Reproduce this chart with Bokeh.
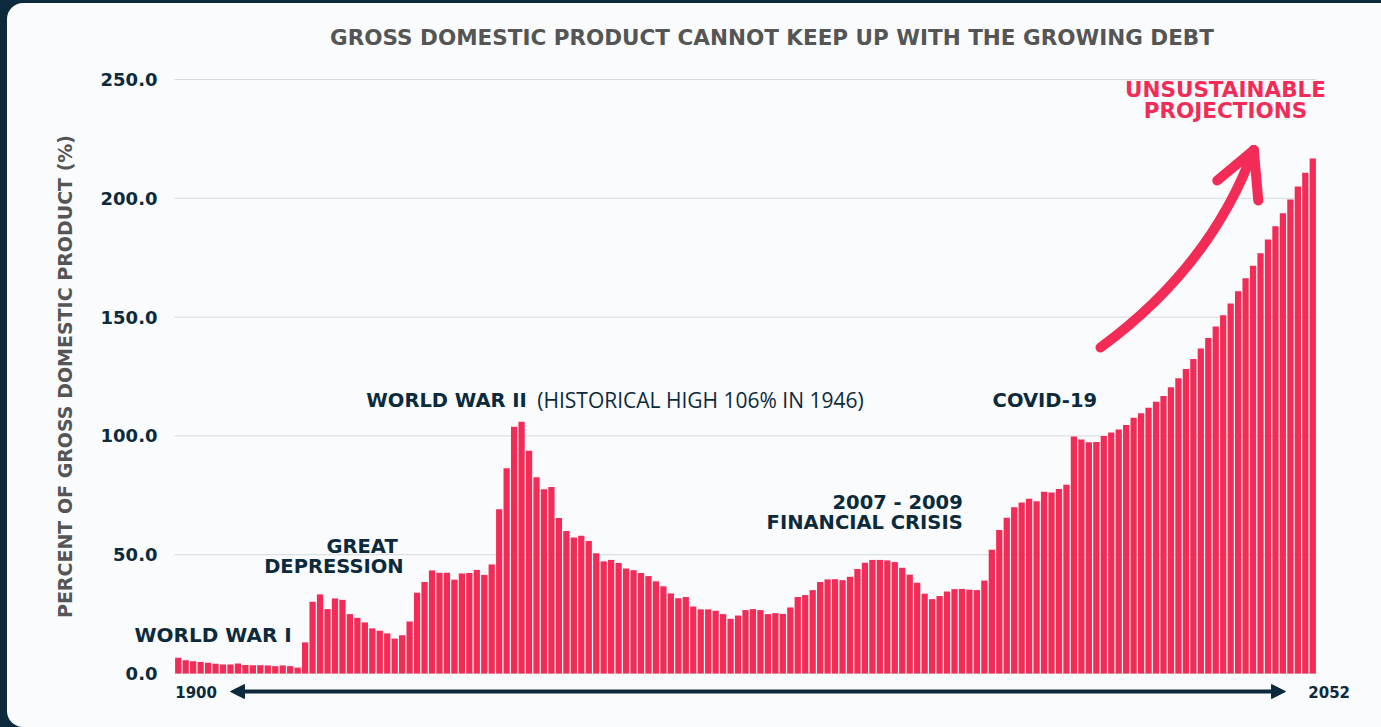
from bokeh.plotting import figure
from bokeh.models import Range1d, FixedTicker, NumeralTickFormatter, Label, Arrow, NormalHead
from bokeh.layouts import column
from bokeh.embed import file_html
from bokeh.resources import INLINE

# Federal debt held by the public, percent of GDP (historical + projected)
years = list(range(1900, 2053))
debt_pct_gdp = [
    6.6, 5.6, 5.2, 4.8, 4.5, 4.1, 3.8, 3.8, 4.2, 3.6,          # 1900-1909
    3.5, 3.5, 3.4, 3.1, 3.4, 3.1, 2.5, 13.1, 30.2, 33.3,       # 1910-1919
    27.1, 31.6, 31.0, 25.0, 23.4, 21.5, 19.0, 18.0, 16.9, 14.7,  # 1920-1929
    16.1, 21.9, 34.0, 38.5, 43.4, 42.4, 42.4, 39.5, 42.1, 42.3,  # 1930-1939
    43.6, 41.5, 45.9, 69.1, 86.4, 103.8, 106.0, 93.8, 82.6, 77.5,  # 1940-1949
    78.5, 65.4, 60.0, 57.2, 58.0, 55.8, 50.6, 47.2, 47.8, 46.5,  # 1950-1959
    44.2, 43.5, 42.3, 41.0, 38.8, 36.7, 33.7, 31.7, 32.2, 28.2,  # 1960-1969
    27.0, 27.0, 26.4, 25.0, 23.0, 24.4, 26.7, 27.1, 26.7, 25.0,  # 1970-1979
    25.4, 25.1, 27.8, 32.2, 33.0, 35.1, 38.5, 39.6, 39.7, 39.3,  # 1980-1989
    40.7, 44.0, 46.6, 47.8, 47.8, 47.6, 46.9, 44.5, 41.6, 38.2,  # 1990-1999
    33.6, 31.3, 32.6, 34.5, 35.5, 35.6, 35.3, 35.1, 39.1, 52.1,  # 2000-2009
    60.4, 65.5, 70.0, 72.0, 73.6, 72.5, 76.5, 76.2, 77.6, 79.4,  # 2010-2019
    99.8, 98.5, 97.3, 97.4, 100.0, 101.4, 102.7, 104.6, 107.6, 109.5,  # 2020-2029
    111.8, 114.4, 116.8, 120.5, 124.3, 128.2, 132.4, 136.8, 141.2, 146.0,  # 2030-2039
    150.8, 155.7, 160.9, 166.3, 171.6, 176.9, 182.7, 188.2, 193.7, 199.5,  # 2040-2049
    205.0, 210.8, 216.8,                                          # 2050-2052
]
y_ticks = [0, 50, 100, 150, 200, 250]
first_year_label = "1900"
last_year_label = "2052"

NAVY = "#0c2a3b"
GRAY = "#555555"
RED = "#f22c57"
GRID = "#d5dbe0"
PANEL = "#f9fbfd"
BOLD_FONT = "DejaVu Sans"
LIGHT_FONT = "Open Sans"

# bars occupy 1899.5..2052.5; the frame is a bit wider so the notes,
# the title and the timeline arrow have room around them
X_LO, X_HI = 1899.5, 2052.5
p = figure(
    width=1374, height=724, title=None,
    output_backend="svg", toolbar_location=None,
    x_range=Range1d(1892.935, 2061.207), y_range=Range1d(-22.727, 272.727),
    x_axis_location=None,
    min_border_left=118, min_border_right=0,
    min_border_top=22, min_border_bottom=0,
    background_fill_color=None, border_fill_color=None,
    outline_line_color=None,
)
# light rounded card on the dark page; the canvas itself stays transparent
p.margin = (3, 0, 0, 7)
p.styles = {
    "background-color": PANEL,
    "border-radius": "16px 0 0 16px",
    "overflow": "hidden",
}

# horizontal guide lines across the bar area only
p.segment(x0=[X_LO] * len(y_ticks), y0=y_ticks,
          x1=[X_HI] * len(y_ticks), y1=y_ticks,
          line_color=GRID, line_width=1)
p.ygrid.visible = False
p.xgrid.visible = False

p.vbar(x=years, top=debt_pct_gdp, width=0.84, bottom=0,
       fill_color=RED, line_color=None)

# y axis
ax = p.yaxis[0]
ax.ticker = FixedTicker(ticks=y_ticks)
ax.formatter = NumeralTickFormatter(format="0.0")
ax.axis_line_color = None
ax.major_tick_line_color = None
ax.minor_tick_line_color = None
ax.major_tick_out = 0
ax.major_tick_in = 0
ax.major_label_standoff = -32
ax.major_label_text_font = BOLD_FONT
ax.major_label_text_font_style = "bold"
ax.major_label_text_font_size = "18px"
ax.major_label_text_color = NAVY
ax.axis_label = "PERCENT OF GROSS DOMESTIC PRODUCT (%)"
ax.axis_label_text_font = BOLD_FONT
ax.axis_label_text_font_style = "bold"
ax.axis_label_text_font_size = "19px"
ax.axis_label_text_color = GRAY
ax.axis_label_standoff = 22


def note(text, x, y, size, align="left", color=NAVY, style="bold", font=BOLD_FONT):
    p.add_layout(Label(
        x=x, y=y, text=text, text_align=align, text_baseline="middle",
        text_font=font, text_font_style=style, text_font_size=size,
        text_color=color,
    ))


note("GROSS DOMESTIC PRODUCT CANNOT KEEP UP WITH THE GROWING DEBT",
     1979.55, 267.7, "21.5px", align="center", color=GRAY)

note("WORLD WAR I", 1915.2, 16.2, "20px", align="right")
note("GREAT", 1929.4, 53.4, "19.5px", align="right")
note("DEPRESSION", 1930.2, 45.0, "19.5px", align="right")
note("WORLD WAR II", 1925.2, 114.9, "19.5px")
note("(HISTORICAL HIGH 106% IN 1946)", 1948.1, 114.9, "21px",
     style="normal", font=LIGHT_FONT)
note("2007 - 2009", 2005.1, 72.0, "19.5px", align="right")
note("FINANCIAL CRISIS", 2005.1, 63.5, "19.5px", align="right")
note("COVID-19", 2009.1, 114.9, "19.5px")
note("UNSUSTAINABLE", 2040.3, 245.8, "21.5px", align="center", color=RED)
note("PROJECTIONS", 2040.3, 237.0, "21.5px", align="center", color=RED)

note(first_year_label, 1899.6, -7.6, "15px")
note(last_year_label, 2051.4, -7.8, "15px")

# timeline arrow under the bars
p.add_layout(Arrow(
    x_start=1907.0, y_start=-7.6, x_end=2048.35, y_end=-7.6,
    line_color=NAVY, line_width=4,
    start=NormalHead(size=14, fill_color=NAVY, line_color=NAVY, line_width=1),
    end=NormalHead(size=14, fill_color=NAVY, line_color=NAVY, line_width=1),
))

# hand-drawn style growth arrow
p.quadratic(x0=[2023.56], y0=[137.2], x1=[2044.06], y1=[220.1],
            cx=[2038.3], cy=[171.1], line_color=RED, line_width=10,
            line_cap="round")
p.segment(x0=[2044.1, 2044.1], y0=[220.3, 220.3],
          x1=[2039.2, 2044.7], y1=[207.5, 199.1],
          line_color=RED, line_width=10, line_cap="round")

page = column(p, width=1381, height=727, styles={"background-color": NAVY})

open("out.html", "w").write(file_html(page, INLINE))
